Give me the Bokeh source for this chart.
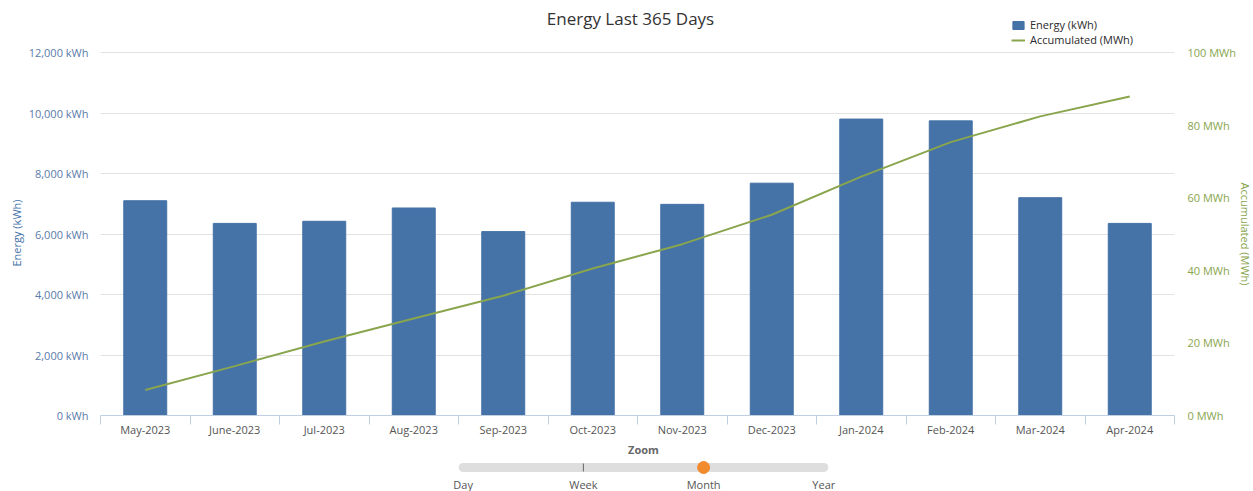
from bokeh.plotting import figure
from bokeh.models import (Range1d, LinearAxis, FixedTicker, Legend, LegendItem, Grid,
                          Label, Title)
from bokeh.layouts import column
from bokeh.embed import file_html
from bokeh.resources import INLINE
from bokeh.core.properties import value

# ---------------- data ----------------
months = ["May-2023", "June-2023", "Jul-2023", "Aug-2023", "Sep-2023", "Oct-2023",
          "Nov-2023", "Dec-2023", "Jan-2024", "Feb-2024", "Mar-2024", "Apr-2024"]
energy_kwh = [7100, 6350, 6420, 6860, 6080, 7050, 6980, 7680, 9800, 9740, 7200, 6350]
accumulated_mwh = [7.0, 13.6, 20.4, 26.7, 33.0, 40.5, 47.2, 55.3, 65.8, 75.3, 82.4, 87.9]

left_ticks = [0, 2000, 4000, 6000, 8000, 10000, 12000]
left_tick_labels = ["0 kWh", "2,000 kWh", "4,000 kWh", "6,000 kWh", "8,000 kWh",
                    "10,000 kWh", "12,000 kWh"]
right_ticks = [0, 20, 40, 60, 80, 100]
right_tick_labels = ["0 MWh", "20 MWh", "40 MWh", "60 MWh", "80 MWh", "100 MWh"]

zoom_levels = ["Day", "Week", "Month", "Year"]
zoom_selected = "Month"

# ---------------- layout / style ----------------
FONT = "Open Sans"
BAR = "#4572A7"
GREEN = "#89A54E"
AXIS_LINE = "#c0d0e0"

W = 1253
FR_L, FR_R = 100, 1175                 # frame left / right (page px)
FR_TOP, AX_TOP, FR_BOT = 4, 52, 415    # frame top, top of value axes, frame bottom
H1 = 442

ext = (FR_BOT - FR_TOP) / (FR_BOT - AX_TOP)

x_pos = list(range(len(months)))
boundaries = [i - 0.5 for i in range(len(months) + 1)]

p = figure(width=W, height=H1,
           x_range=Range1d(-0.5, len(months) - 0.5),
           y_range=Range1d(left_ticks[0], left_ticks[-1] * ext),
           x_axis_location=None, y_axis_location=None, title=None,
           output_backend="svg", toolbar_location=None,
           min_border_left=FR_L, min_border_right=W - FR_R,
           min_border_top=FR_TOP, min_border_bottom=H1 - FR_BOT)
p.extra_y_ranges = {"acc": Range1d(right_ticks[0], right_ticks[-1] * ext)}
p.outline_line_color = None
p.background_fill_color = "white"
p.border_fill_color = "white"
p.grid.visible = False

# grid
left_ticker = FixedTicker(ticks=left_ticks)
p.add_layout(Grid(dimension=1, ticker=left_ticker, grid_line_color="#e2e2e2"))

# x axis
xaxis = LinearAxis(ticker=FixedTicker(ticks=x_pos, minor_ticks=boundaries),
                   major_label_overrides={i: m for i, m in enumerate(months)})
xaxis.axis_line_color = AXIS_LINE
xaxis.major_tick_line_color = None
xaxis.major_tick_out = 0
xaxis.major_tick_in = 0
xaxis.minor_tick_line_color = AXIS_LINE
xaxis.minor_tick_out = 9
xaxis.minor_tick_in = 0
xaxis.major_label_standoff = -3
xaxis.major_label_text_font = FONT
xaxis.major_label_text_font_size = "11px"
xaxis.major_label_text_color = "#555555"
p.add_layout(xaxis, "below")

# left axis
laxis = LinearAxis(ticker=left_ticker,
                   major_label_overrides=dict(zip(left_ticks, left_tick_labels)))
laxis.axis_line_color = None
laxis.major_tick_line_color = None
laxis.minor_tick_line_color = None
laxis.major_tick_out = 0
laxis.major_tick_in = 0
laxis.major_label_standoff = 12
laxis.major_label_text_font = FONT
laxis.major_label_text_font_size = "11px"
laxis.major_label_text_color = "#5a7bab"
p.add_layout(laxis, "left")

# right axis
raxis = LinearAxis(y_range_name="acc", ticker=FixedTicker(ticks=right_ticks),
                   major_label_overrides=dict(zip(right_ticks, right_tick_labels)))
raxis.axis_line_color = None
raxis.major_tick_line_color = None
raxis.minor_tick_line_color = None
raxis.major_tick_out = 0
raxis.major_tick_in = 0
raxis.major_label_standoff = 13
raxis.major_label_text_font = FONT
raxis.major_label_text_font_size = "11px"
raxis.major_label_text_color = GREEN
p.add_layout(raxis, "right")

# axis titles (anchored at one end of the side panel, shifted along it)
p.add_layout(Title(text="Energy (kWh)", align="left", offset=FR_BOT - 266,
                   standoff=4, text_font=FONT, text_font_size="11px",
                   text_font_style="normal", text_color=BAR), "left")
p.add_layout(Title(text="Accumulated (MWh)", align="left", offset=182 - FR_TOP,
                   standoff=-3, text_font=FONT, text_font_size="11px",
                   text_font_style="normal", text_color=GREEN), "right")

# glyphs
bars = p.vbar(x=x_pos, top=energy_kwh, width=0.48, fill_color=BAR, line_color=BAR)
acc_line = p.line(x=x_pos, y=accumulated_mwh, y_range_name="acc",
                  line_color=GREEN, line_width=2)

legend = Legend(items=[LegendItem(label="Energy (kWh)", renderers=[bars]),
                       LegendItem(label="Accumulated (MWh)", renderers=[acc_line])],
                location=(1011 - FR_L, FR_BOT - 47))
legend.background_fill_color = "white"
legend.background_fill_alpha = 1.0
legend.border_line_color = None
legend.padding = 8
legend.spacing = 0
legend.margin = 0
legend.glyph_width = 14
legend.glyph_height = 10
legend.label_height = 12
legend.label_standoff = 5
legend.label_text_font = FONT
legend.label_text_font_size = "11px"
legend.label_text_color = "#2a2a2a"
p.add_layout(legend)

# chart title (inside the frame, screen units relative to the frame's bottom-left)
p.add_layout(Label(x=630 - FR_L, y=FR_BOT - 18, x_units="screen", y_units="screen",
                   text="Energy Last 365 Days", text_align="center", text_baseline="middle",
                   text_font=FONT, text_font_size="17px", text_color="#333333"))

# ---------------- zoom slider ----------------
n = len(zoom_levels)
idx = list(range(n))
sel = zoom_levels.index(zoom_selected)
s_px, e_px = 463.0, 824.0
unit = (e_px - s_px) / (n - 1)
H2 = 491 - H1
p2 = figure(width=W, height=H2,
            x_range=Range1d(-(s_px - FR_L) / unit, (FR_R - s_px) / unit),
            y_range=Range1d(0, H2),
            x_axis_location=None, y_axis_location=None, title=None,
            output_backend="svg", toolbar_location=None,
            min_border_left=FR_L, min_border_right=W - FR_R,
            min_border_top=0, min_border_bottom=0)
p2.outline_line_color = None
p2.grid.visible = False
p2.background_fill_color = "white"
p2.border_fill_color = "white"

p2.line(x=[idx[0], idx[-1]], y=[24, 24], line_width=9, line_cap="round",
        line_color="#dedede")
mid_ticks = [i for i in idx if i not in (0, n - 1, sel)]
p2.segment(x0=mid_ticks, y0=[20] * len(mid_ticks), x1=mid_ticks, y1=[28] * len(mid_ticks),
           line_color="#666666", line_width=1)
p2.scatter(x=[sel], y=[24], size=12, fill_color="#f28a2e", line_color="#f28a2e")
p2.text(x=idx, y=[7] * n, text=zoom_levels, text_align="center",
        text_baseline="middle", text_font=value(FONT), text_font_size="11px",
        text_color="#555555")
p2.text(x=[(n - 1) / 2], y=[42], text=["Zoom"], text_align="center",
        text_baseline="middle", text_font=value(FONT), text_font_size="11px",
        text_font_style="bold", text_color="#666666")

layout = column(p, p2, spacing=0)
open("out.html", "w").write(file_html(layout, INLINE))
